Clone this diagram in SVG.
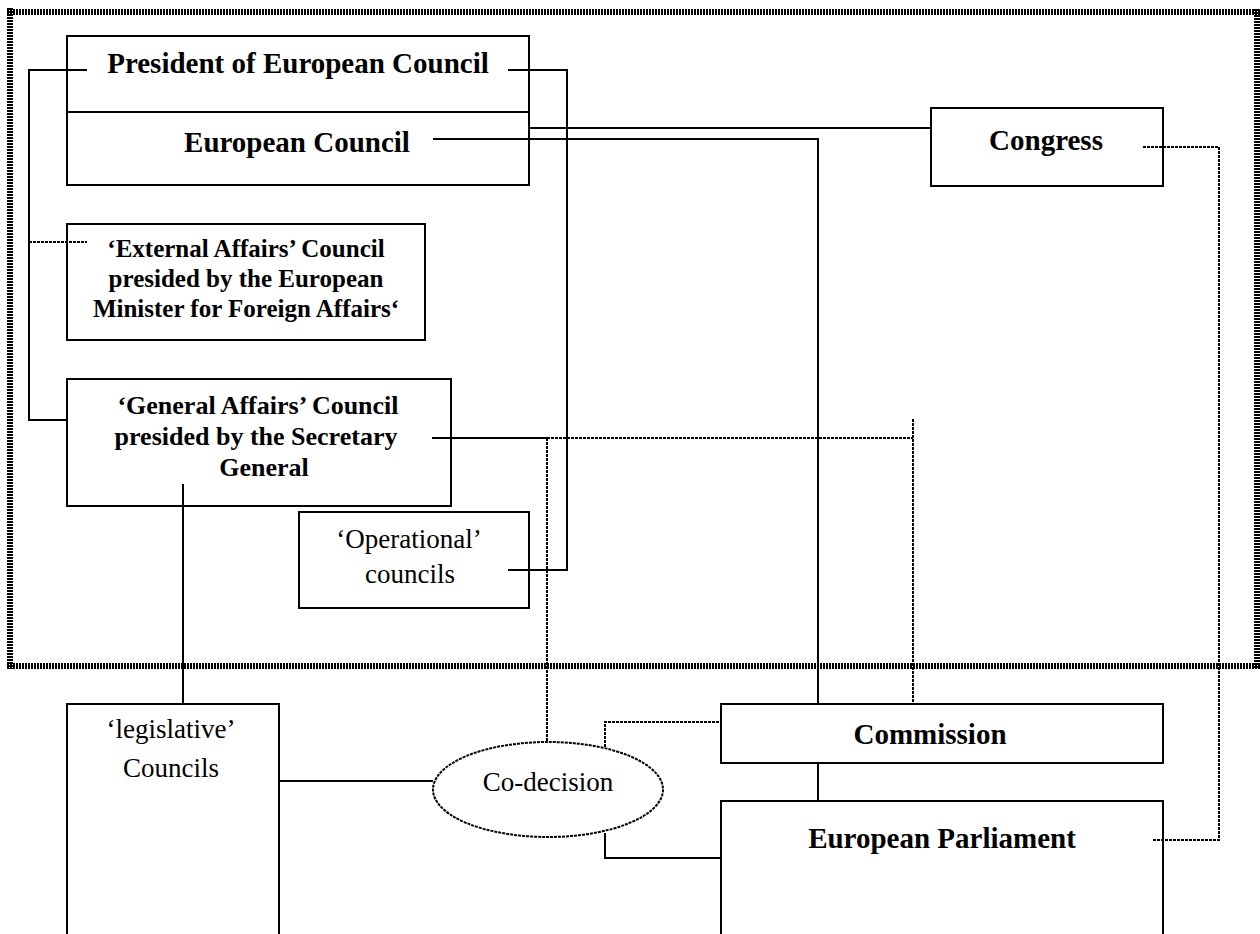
<svg xmlns="http://www.w3.org/2000/svg" width="1260" height="934" viewBox="0 0 1260 934">
<style>
.box{fill:#fff;stroke:#000;stroke-width:2}
.ln{fill:none;stroke:#000;stroke-width:2}
.dl{fill:none;stroke:#000;stroke-width:2;stroke-dasharray:3 1}
.frame{fill:none;stroke:#000;stroke-width:6;stroke-dasharray:2 1}
.b{font-family:"Liberation Serif",serif;font-weight:bold;font-size:29px;text-anchor:middle}
.bs{font-family:"Liberation Serif",serif;font-weight:bold;font-size:25px;text-anchor:middle}
.bg{font-family:"Liberation Serif",serif;font-weight:bold;font-size:26px;text-anchor:middle}
.n{font-family:"Liberation Serif",serif;font-size:27px;text-anchor:middle}
</style>
<rect width="1260" height="934" fill="#fff"/>
<g id="frame">
<line class="frame" x1="7" y1="12" x2="1260" y2="12"/>
<line class="frame" x1="10" y1="8" x2="10" y2="669"/>
<line class="frame" x1="7" y1="666" x2="1260" y2="666"/>
<line class="frame" x1="1257" y1="9" x2="1257" y2="669"/>
</g>
<g id="n-president">
<rect class="box" x="67" y="36" width="462" height="149"/>
<line class="ln" x1="67" y1="112" x2="529" y2="112"/>
<text class="b" x="298" y="73">President of European Council</text>
</g>
<g id="n-european-council">
<text class="b" x="297" y="152">European Council</text>
</g>
<g id="n-congress">
<rect class="box" x="931" y="108" width="232" height="78"/>
<text class="b" x="1046" y="150">Congress</text>
</g>
<g id="n-external">
<rect class="box" x="67" y="224" width="358" height="116"/>
<text class="bs" x="246" y="257">‘External Affairs’ Council</text>
<text class="bs" x="246" y="287">presided by the European</text>
<text class="bs" x="246" y="317">Minister for Foreign Affairs‘</text>
</g>
<g id="n-general">
<rect class="box" x="67" y="379" width="384" height="127"/>
<text class="bg" x="258" y="414">‘General Affairs’ Council</text>
<text class="bg" x="256" y="445">presided by the Secretary</text>
<text class="bg" x="264" y="476">General</text>
</g>
<g id="n-operational">
<rect class="box" x="299" y="512" width="230" height="96"/>
<text class="n" x="409" y="548">‘Operational’</text>
<text class="n" x="410" y="583">councils</text>
</g>
<g id="n-legislative">
<rect class="box" x="67" y="704" width="212" height="240"/>
<text class="n" x="171" y="738">‘legislative’</text>
<text class="n" x="171" y="777">Councils</text>
</g>
<g id="n-codecision">
<ellipse cx="548" cy="789.5" rx="115" ry="47.5" fill="#fff" stroke="#000" stroke-width="2" stroke-dasharray="3 1"/>
<text class="n" x="548" y="791">Co-decision</text>
</g>
<g id="n-commission">
<rect class="box" x="721" y="704" width="442" height="59"/>
<text class="b" x="930" y="744">Commission</text>
</g>
<g id="n-parliament">
<rect class="box" x="721" y="801" width="442" height="143"/>
<text class="b" x="942" y="848">European Parliament</text>
</g>
<g id="connectors">
<polyline class="ln" points="87,70 29,70 29,420 67,420"/>
<line class="dl" x1="29" y1="242" x2="87" y2="242"/>
<polyline class="ln" points="508,70 567,70 567,570 508,570"/>
<line class="ln" x1="529" y1="128" x2="931" y2="128"/>
<polyline class="ln" points="433,139 818,139 818,704"/>
<polyline class="dl" points="1143,147 1219,147 1219,840 1153,840"/>
<line class="ln" x1="432" y1="438" x2="547" y2="438"/>
<line class="dl" x1="547" y1="438" x2="913" y2="438"/>
<line class="dl" x1="913" y1="419" x2="913" y2="704"/>
<line class="dl" x1="547" y1="438" x2="547" y2="742"/>
<line class="ln" x1="183" y1="484" x2="183" y2="704"/>
<line class="ln" x1="279" y1="781" x2="433" y2="781"/>
<polyline class="dl" points="605,747 605,722 721,722"/>
<polyline class="ln" points="605,833 605,858 721,858"/>
<line class="ln" x1="818" y1="763" x2="818" y2="801"/>
</g>
</svg>
